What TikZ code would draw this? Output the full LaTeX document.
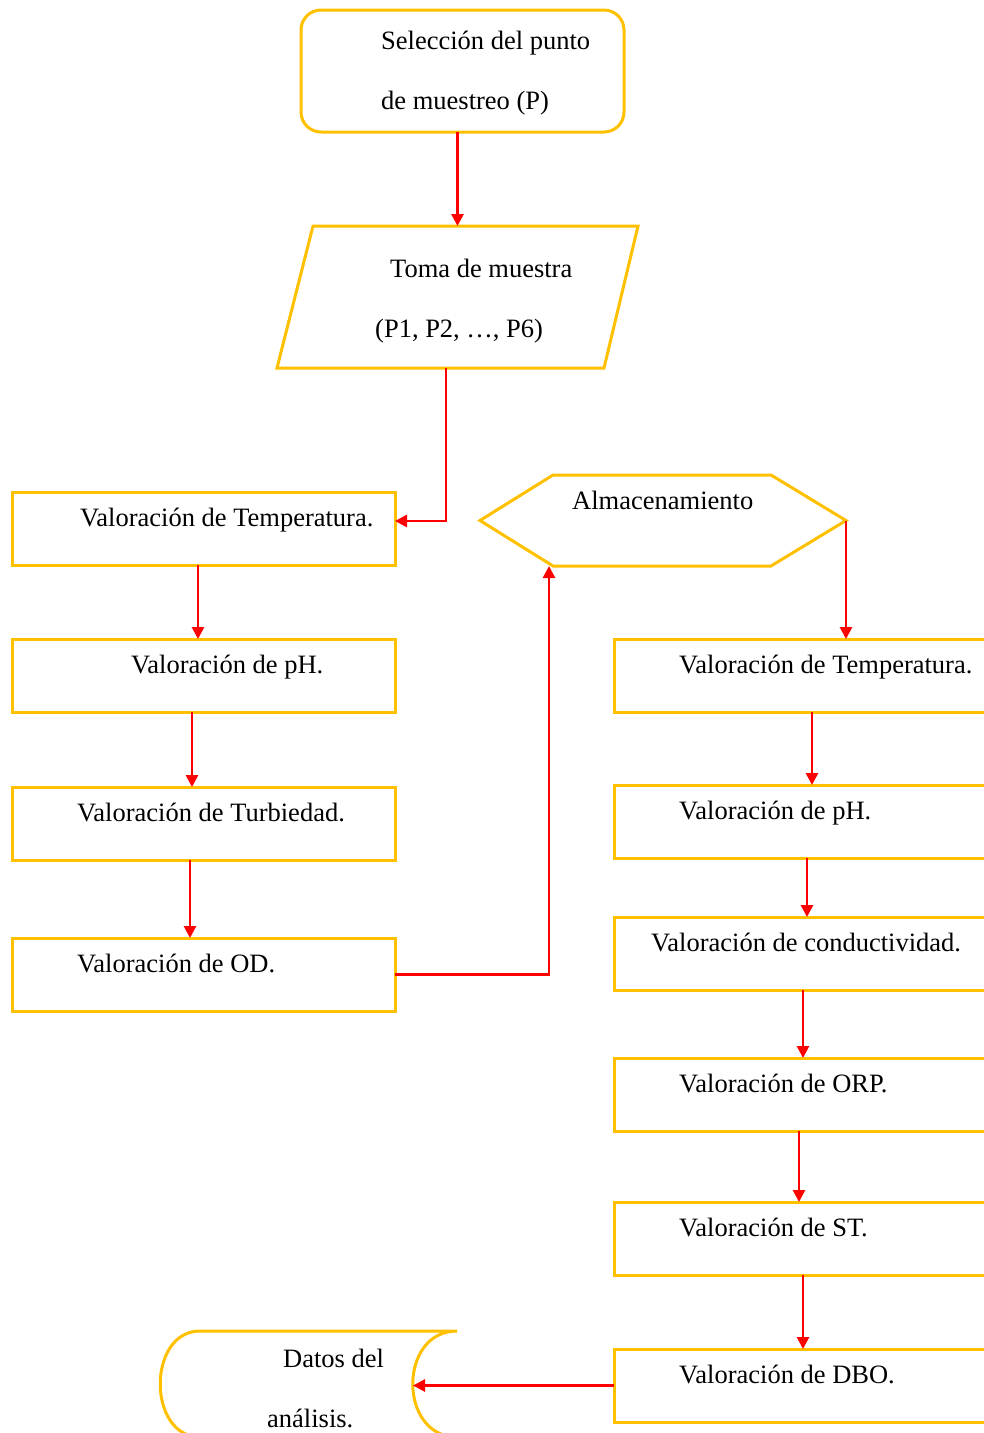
\documentclass[tikz,border=0pt]{standalone}
\usepackage{fontspec}
\setmainfont{Liberation Serif}
\usetikzlibrary{arrows.meta,calc,positioning}
\definecolor{boxgold}{HTML}{FFC000}
\definecolor{linkred}{HTML}{FF0000}
\tikzset{
flow/.style={x=1pt,y=-1pt,font=\fontsize{26.5}{60}\selectfont,
>={Triangle[length=12pt,width=12pt]}},
valbox/.style={rectangle,draw=boxgold,line width=3pt,minimum width=383,minimum height=73,inner sep=0,outer sep=0},
startbox/.style={rectangle,rounded corners=20pt,draw=boxgold,line width=3pt,minimum width=323,minimum height=122,outer sep=0},
frame/.style={rectangle,draw=none,inner sep=0,outer sep=0},
outline/.style={draw=boxgold,line width=3pt,line join=miter},
txt/.style={inner sep=0,align=left},
vlab/.style={anchor=base west,inner sep=0,xshift=#1,yshift=2},
vlab/.default={65},
link/.style={->,draw=linkred,line width=2.7pt},
}
\begin{document}
\begin{tikzpicture}[flow]
                    \useasboundingbox (0,0) rectangle (984,1433);
                    \clip (0,0) rectangle (984,1433);
                    \node[startbox] (start) at (462.5,71) [label={[txt,anchor=west,xshift=80,yshift=-2]west:{Selección del punto\\de muestreo (P)}}] {};
                    \node[frame,minimum width=361,minimum height=142] (toma) at (457.5,297) [label={[txt,anchor=west,xshift=98,yshift=-4.5]west:{\hspace*{15pt}Toma de muestra\\(P1, P2, …, P6)}}] {};
                    \draw[outline] (toma.north east) -- ([xshift=36]toma.north west) -- (toma.south west) -- ([xshift=-34]toma.south east) -- cycle;
                    
                    \node[valbox] (l1) at (203.5,528.5) [label={[vlab=68]west:Valoración de Temperatura.}] {};
                    \node[valbox] (l2) [below=74pt of l1,label={[vlab=119]west:Valoración de pH.}] {};
                    \node[valbox] (l3) [below=75pt of l2,label={[vlab]west:Valoración de Turbiedad.}] {};
                    \node[valbox] (l4) [below=78pt of l3,label={[vlab]west:Valoración de OD.}] {};
                    
                    \node[frame,minimum width=366,minimum height=91] (hex) at (663,520.5) [label={[vlab=92,yshift=9]west:Almacenamiento}] {};
                    \draw[outline] (hex.west) -- ([xshift=73]hex.north west) -- ([xshift=-75]hex.north east) -- (hex.east)
                        -- ([xshift=-75]hex.south east) -- ([xshift=73]hex.south west) -- cycle;
                    
                    \node[valbox] (r1) at (805.5,675.5) [label={[vlab]west:Valoración de Temperatura.}] {};
                    \node[valbox] (r2) [below=73pt of r1,label={[vlab]west:Valoración de pH.}] {};
                    \node[valbox] (r3) [below=59pt of r2,label={[vlab=37]west:Valoración de conductividad.}] {};
                    \node[valbox] (r4) [below=68pt of r3,label={[vlab]west:Valoración de ORP.}] {};
                    \node[valbox] (r5) [below=71pt of r4,label={[vlab]west:Valoración de ST.}] {};
                    \node[valbox] (r6) [below=74pt of r5,label={[vlab]west:Valoración de DBO.}] {};
                    
                    \node[frame,minimum width=297,minimum height=106] (data) at (308.5,1384) [label={[txt,anchor=west,xshift=107,yshift=-4.5]west:{\hspace*{16pt}Datos del\\análisis.}}] {};
                    \draw[outline] (data.north east) -- ([xshift=40]data.north west)
                        .. controls ([xshift=-13]data.north west) and ([xshift=-13]data.south west) .. ([xshift=40]data.south west)
                        -- (data.south east)
                        .. controls ([xshift=-59]data.south east) and ([xshift=-59]data.north east) .. (data.north east);
                    \coordinate (datain) at ([xshift=-44]data.east |- r6.west);
                    
                    \draw[link] (toma.north |- start.south) -- (toma.north);
                    \draw[link] ([xshift=-11.5]toma.south) |- ([yshift=7.5]l1.east);
                    \draw[link] ([xshift=-5.5]l1.south) -- ([xshift=-5.5]l2.north);
                    \draw[link] ([xshift=-11.5]l2.south) -- ([xshift=-11.5]l3.north);
                    \draw[link] ([xshift=-13.5]l3.south) -- ([xshift=-13.5]l4.north);
                    \draw[link] (l4.east) -| ([xshift=-114]hex.south);
                    \draw[link] (hex.east) -- (hex.east |- r1.north);
                    \draw[link] ([xshift=6.5]r1.south) -- ([xshift=6.5]r2.north);
                    \draw[link] ([xshift=1.5]r2.south) -- ([xshift=1.5]r3.north);
                    \draw[link] ([xshift=-2.5]r3.south) -- ([xshift=-2.5]r4.north);
                    \draw[link] ([xshift=-6.5]r4.south) -- ([xshift=-6.5]r5.north);
                    \draw[link] ([xshift=-2.5]r5.south) -- ([xshift=-2.5]r6.north);
                    \draw[link] (r6.west) -- (datain);
                \end{tikzpicture}
\end{document}
